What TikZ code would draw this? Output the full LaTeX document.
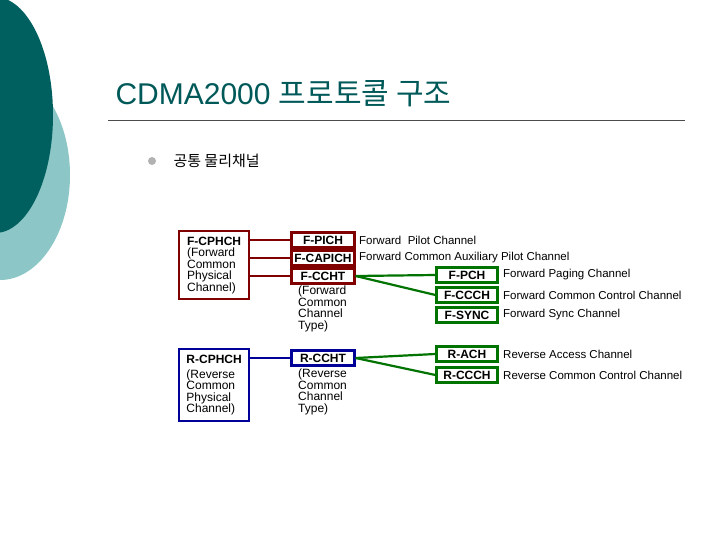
\documentclass[tikz,border=0pt]{standalone}
\usepackage{fontspec}
\setmainfont{Liberation Sans}
\newfontfamily\kr{Noto Sans CJK KR}
\begin{document}
\begin{tikzpicture}[x=1pt,y=-1pt,
 red/.style={draw=red!50!black,line width=2.2pt},
 blu/.style={draw=blue!60!black,line width=2.2pt},
 grn/.style={draw=green!45!black,line width=2.2pt},
 bx/.style={minimum height=15pt,inner sep=0pt,font=\bfseries\fontsize{12}{12}\selectfont},
 big/.style={minimum width=70pt,inner sep=3pt,anchor=north west,align=left,font=\fontsize{12}{11.5}\selectfont},
 lab/.style={anchor=west,inner sep=0pt,font=\fontsize{11.5}{11.5}\selectfont},
 sub/.style={anchor=north west,inner sep=0pt,align=left,font=\fontsize{12}{11.5}\selectfont}]
\useasboundingbox (0,0) rectangle (720,540);
\fill[white] (0,0) rectangle (720,540);
\fill[teal!45!white] (0,175) circle (70 and 105);
\fill[teal!75!black] (-5,115) ellipse (58 and 118);
\node[anchor=west,font=\fontsize{30}{30}\selectfont,text=teal!70!black] (title) at (112,94) {CDMA2000 {\kr 프로토콜 구조}};
\draw[gray!60!black] (108,120) -- (685,120);
\fill[gray!60] (152,161) circle (4);
\node[anchor=west,font=\kr\fontsize{15}{15}\selectfont] (bul) at (170,161) {공통 물리채널};
% F side
\node[red,big,minimum height=68pt] (fc) at (178,230) {\textbf{F-CPHCH}\\(Forward\\Common\\Physical\\Channel)};
\node[red,bx,minimum width=63pt] (fp) at (323,240) {F-PICH};
\node[red,bx,minimum width=63pt] (fca) at (323,258) {F-CAPICH};
\node[red,bx,minimum width=63pt] (fct) at (323,276) {F-CCHT};
\node[sub] (fcts) at (298,286) {(Forward\\Common\\Channel\\Type)};
\draw[red] (fc.east|-fp) -- (fp.west);
\draw[red] (fc.east|-fca) -- (fca.west);
\draw[red] (fc.east|-fct) -- (fct.west);
\node[lab] (lp) at (359,240) {Forward\ \ Pilot Channel};
\node[lab] (lca) at (359,258) {Forward Common Auxiliary Pilot Channel};
\node[grn,bx,minimum width=61pt] (pch) at (467,275) {F-PCH};
\node[grn,bx,minimum width=61pt] (ccch) at (467,295) {F-CCCH};
\node[grn,bx,minimum width=61pt] (sync) at (467,315) {F-SYNC};
\draw[grn] (fct.east) -- (pch.west);
\draw[grn] (fct.east) -- (ccch.west);
\node[lab] (lpch) at (503,275) {Forward Paging Channel};
\node[lab] (lccch) at (503,295) {Forward Common Control Channel};
\node[lab] (lsync) at (503,315) {Forward Sync Channel};
% R side
\node[blu,big,minimum height=72pt] (rc) at (178,348) {\textbf{R-CPHCH}\\[3pt](Reverse\\Common\\Physical\\Channel)};
\node[blu,bx,minimum width=63pt] (rct) at (323,358) {R-CCHT};
\node[sub] (rcts) at (298,369) {(Reverse\\Common\\Channel\\Type)};
\draw[blu] (rc.east|-rct) -- (rct.west);
\node[grn,bx,minimum width=61pt] (ach) at (467,354) {R-ACH};
\node[grn,bx,minimum width=61pt] (rccch) at (467,375) {R-CCCH};
\draw[grn] (rct.east) -- (ach.west);
\draw[grn] (rct.east) -- (rccch.west);
\node[lab] (lach) at (503,354) {Reverse Access Channel};
\node[lab] (lrccch) at (503,375) {Reverse Common Control Channel};
\end{tikzpicture}
\end{document}
